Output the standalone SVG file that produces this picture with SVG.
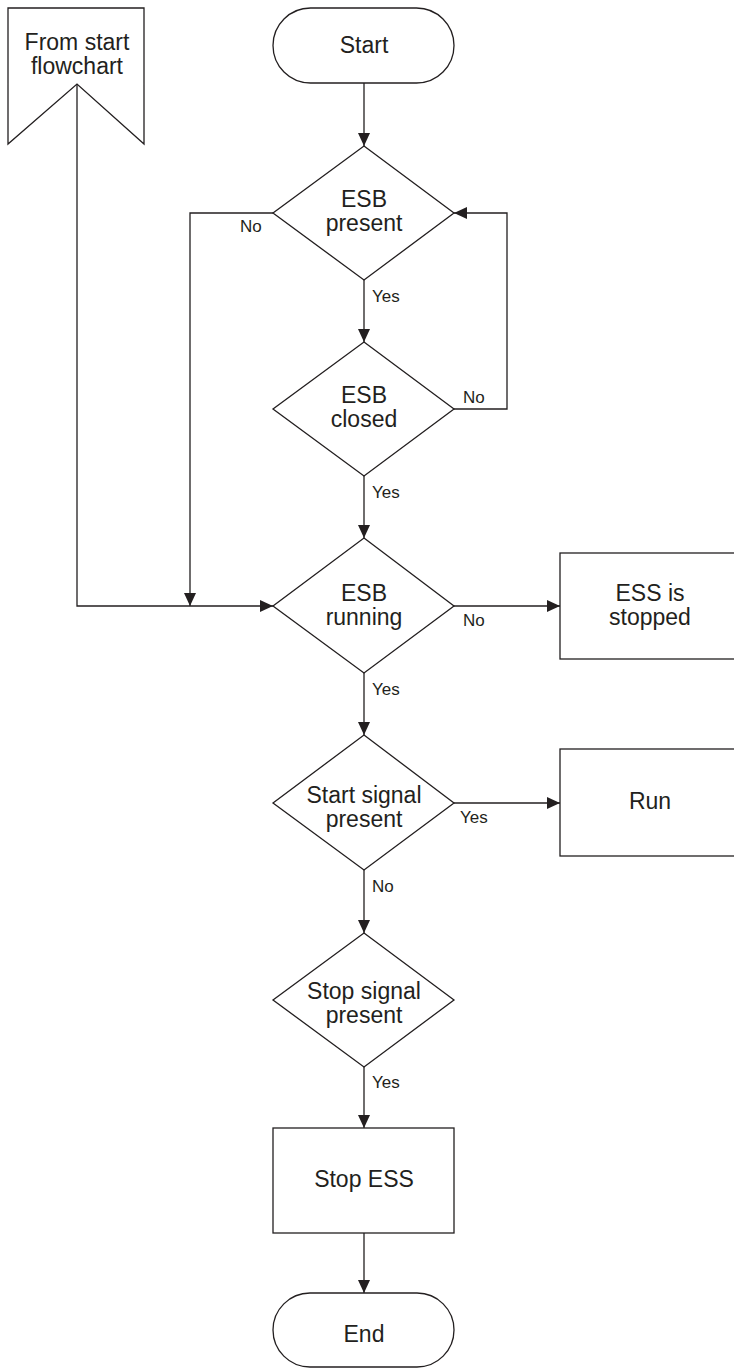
<svg xmlns="http://www.w3.org/2000/svg" width="734" height="1369" viewBox="0 0 734 1369">
<style>
.s{fill:#fff;stroke:#231f20;stroke-width:1.3}
.c{fill:none;stroke:#231f20;stroke-width:1.3}
text{font-family:"Liberation Sans",Arial,sans-serif;fill:#231f20}
.t{font-size:23px;text-anchor:middle}
.l{font-size:17px}
</style>
<defs>
<marker id="a" viewBox="0 0 13 12" refX="13" refY="6" markerWidth="13" markerHeight="12" markerUnits="userSpaceOnUse" orient="auto">
<path d="M0,0 L13,6 L0,12 Z" fill="#231f20"/>
</marker>
</defs>
<rect width="734" height="1369" fill="#fff"/>
<g id="connectors">
<line class="c" x1="364" y1="83" x2="364" y2="146" marker-end="url(#a)"/>
<line class="c" x1="364" y1="280" x2="364" y2="342" marker-end="url(#a)"/>
<polyline class="c" points="454,409 507,409 507,213 454,213" marker-end="url(#a)"/>
<polyline class="c" points="273,213 190,213 190,606" marker-end="url(#a)"/>
<polyline class="c" points="77,84 77,606 273,606" marker-end="url(#a)"/>
<line class="c" x1="364" y1="476" x2="364" y2="538" marker-end="url(#a)"/>
<line class="c" x1="454" y1="606" x2="560" y2="606" marker-end="url(#a)"/>
<line class="c" x1="364" y1="673" x2="364" y2="735" marker-end="url(#a)"/>
<line class="c" x1="454" y1="803" x2="560" y2="803" marker-end="url(#a)"/>
<line class="c" x1="364" y1="870" x2="364" y2="933" marker-end="url(#a)"/>
<line class="c" x1="364" y1="1067" x2="364" y2="1128" marker-end="url(#a)"/>
<line class="c" x1="364" y1="1233" x2="364" y2="1293" marker-end="url(#a)"/>
<text class="l" x="240" y="232">No</text>
<text class="l" x="372" y="302">Yes</text>
<text class="l" x="463" y="403">No</text>
<text class="l" x="372" y="498">Yes</text>
<text class="l" x="463" y="626">No</text>
<text class="l" x="372" y="695">Yes</text>
<text class="l" x="460" y="823">Yes</text>
<text class="l" x="372" y="892">No</text>
<text class="l" x="372" y="1088">Yes</text>
</g>
<g id="from-start">
<path class="s" d="M8,8 H144 V144 L77,84 L8,144 Z"/>
<text class="t" x="77" y="50">From start</text>
<text class="t" x="77" y="74">flowchart</text>
</g>
<g id="start">
<rect class="s" x="273" y="8" width="181" height="75" rx="37.5"/>
<text class="t" x="364" y="53">Start</text>
</g>
<g id="esb-present">
<path class="s" d="M364,146 L454,213 L364,280 L273,213 Z"/>
<text class="t" x="364" y="207">ESB</text>
<text class="t" x="364" y="231">present</text>
</g>
<g id="esb-closed">
<path class="s" d="M364,342 L454,409 L364,476 L273,409 Z"/>
<text class="t" x="364" y="403">ESB</text>
<text class="t" x="364" y="427">closed</text>
</g>
<g id="esb-running">
<path class="s" d="M364,538 L454,606 L364,673 L273,606 Z"/>
<text class="t" x="364" y="601">ESB</text>
<text class="t" x="364" y="625">running</text>
</g>
<g id="ess-stopped">
<rect class="s" x="560" y="553" width="180" height="106"/>
<text class="t" x="650" y="601">ESS is</text>
<text class="t" x="650" y="625">stopped</text>
</g>
<g id="start-signal">
<path class="s" d="M364,735 L454,803 L364,870 L273,803 Z"/>
<text class="t" x="364" y="803">Start signal</text>
<text class="t" x="364" y="827">present</text>
</g>
<g id="run">
<rect class="s" x="560" y="749" width="180" height="107"/>
<text class="t" x="650" y="809">Run</text>
</g>
<g id="stop-signal">
<path class="s" d="M364,933 L454,1000 L364,1067 L273,1000 Z"/>
<text class="t" x="364" y="999">Stop signal</text>
<text class="t" x="364" y="1023">present</text>
</g>
<g id="stop-ess">
<rect class="s" x="273" y="1128" width="181" height="105"/>
<text class="t" x="364" y="1187">Stop ESS</text>
</g>
<g id="end">
<rect class="s" x="273" y="1293" width="181" height="74" rx="37"/>
<text class="t" x="364" y="1342">End</text>
</g>
</svg>
